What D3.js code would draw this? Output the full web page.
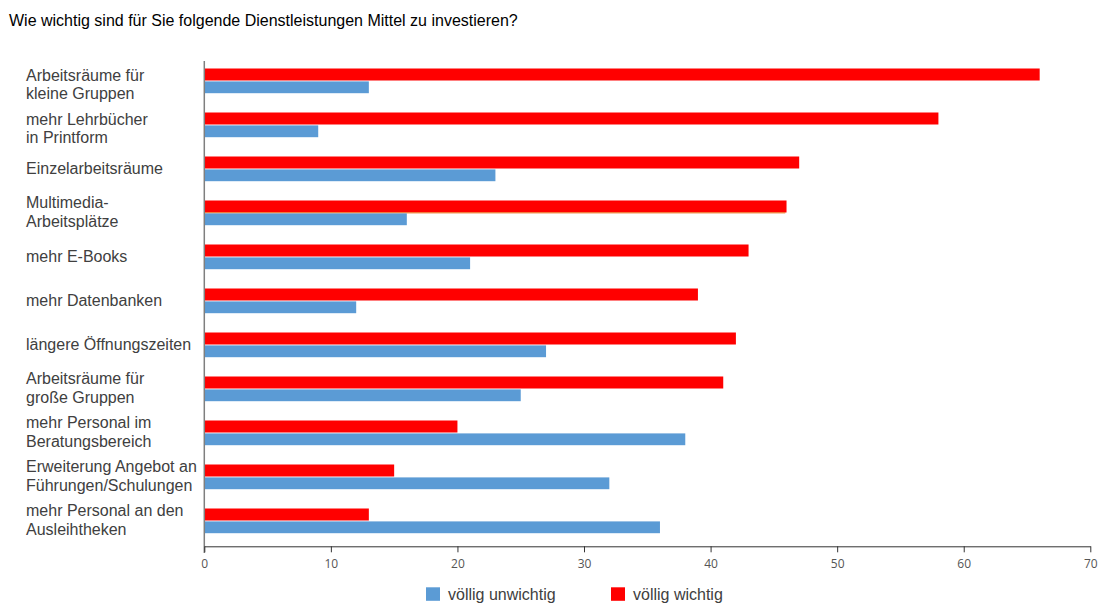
<!DOCTYPE html>
<html><head><meta charset="utf-8">
<script src="https://cdn.jsdelivr.net/npm/d3@7"></script>
<style>
html,body{margin:0;padding:0;background:#fff;}
svg{display:block;}
</style></head>
<body>
<svg id="chart" width="1099" height="604"></svg>
<script>
const title = "Wie wichtig sind für Sie folgende Dienstleistungen Mittel zu investieren?";
const categories = [
  ["Arbeitsräume für", "kleine Gruppen"],
  ["mehr Lehrbücher", "in Printform"],
  ["Einzelarbeitsräume"],
  ["Multimedia-", "Arbeitsplätze"],
  ["mehr E-Books"],
  ["mehr Datenbanken"],
  ["längere Öffnungszeiten"],
  ["Arbeitsräume für", "große Gruppen"],
  ["mehr Personal im", "Beratungsbereich"],
  ["Erweiterung Angebot an", "Führungen/Schulungen"],
  ["mehr Personal an den", "Ausleihtheken"]
];
const seriesNames = ["völlig unwichtig", "völlig wichtig"];
const unwichtig = [13, 9, 23, 16, 21, 12, 27, 25, 38, 32, 36];
const wichtig   = [66, 58, 47, 46, 43, 39, 42, 41, 20, 15, 13];
// thin orange sliver visible between the bars of one row in the original
const sliver    = [null, null, null, 45.9, null, null, null, null, null, null, null];
const xTicks = [0, 10, 20, 30, 40, 50, 60, 70];
const colors = ["#5B9BD5", "#FF0000"];
const sliverColor = "#ED7D31";

const svg = d3.select("#chart");
const m = {left: 204.3, right: 1090.3, top: 58.5, bottom: 542.5};

const x = d3.scaleLinear().domain([0, 70]).range([m.left, m.right]);
const y = d3.scaleBand().domain(d3.range(categories.length)).range([m.top, m.bottom]);

svg.append("text").attr("x", 9).attr("y", 20).attr("dominant-baseline", "central")
  .attr("font-family", "Liberation Sans, Arial, sans-serif").attr("font-size", 16)
  .attr("fill", "#000").text(title);

const rows = svg.append("g");
categories.forEach((c, i) => {
  const cy = y(i) + y.bandwidth() / 2;
  rows.append("rect").attr("x", x(0)).attr("y", cy - 12)
    .attr("width", x(wichtig[i]) - x(0)).attr("height", 12).attr("fill", colors[1]);
  if (sliver[i] != null) {
    rows.append("rect").attr("x", x(0)).attr("y", cy - 0.3)
      .attr("width", x(sliver[i]) - x(0)).attr("height", 1.2).attr("fill", sliverColor);
  }
  rows.append("rect").attr("x", x(0)).attr("y", cy + 0.9)
    .attr("width", x(unwichtig[i]) - x(0)).attr("height", 11.8).attr("fill", colors[0]);
});

// labels
const lab = svg.append("g").attr("font-family", "Liberation Sans, Arial, sans-serif")
  .attr("font-size", 16).attr("fill", "#404040");
categories.forEach((c, i) => {
  const cy = y(i) + y.bandwidth() / 2;
  const t = lab.append("text").attr("x", 26).attr("dominant-baseline", "central");
  if (c.length === 1) {
    t.attr("y", cy).text(c[0]);
  } else {
    const off = i < 2 ? [-6, 12.5] : [-10.5, 8];
    t.append("tspan").attr("x", 26).attr("y", cy + off[0]).text(c[0]);
    t.append("tspan").attr("x", 26).attr("y", cy + off[1]).text(c[1]);
  }
});

// y axis line
svg.append("line").attr("x1", x(0)).attr("x2", x(0)).attr("y1", 61).attr("y2", 553)
  .attr("stroke", "#7f7f7f").attr("stroke-width", 1.5);

// x axis
const xa = svg.append("g").attr("transform", "translate(0,546.3)")
  .call(d3.axisBottom(x).tickValues(xTicks).tickSize(6).tickSizeOuter(0).tickPadding(7));
xa.select(".domain").attr("stroke", "#333").attr("stroke-width", 1);
xa.selectAll(".tick line").attr("stroke", "#333");
xa.selectAll(".tick text").attr("font-family", "Open Sans, sans-serif").attr("font-size", 12)
  .attr("fill", "#555");

// legend
const lg = svg.append("g").attr("font-family", "Liberation Sans, Arial, sans-serif")
  .attr("font-size", 16).attr("fill", "#404040");
const legX = [426, 611];
seriesNames.forEach((s, i) => {
  lg.append("rect").attr("x", legX[i]).attr("y", 587.3).attr("width", 14).attr("height", 13.5).attr("fill", colors[i]);
  lg.append("text").attr("x", legX[i] + 22).attr("y", 594.5).attr("dominant-baseline", "central").text(s);
});
</script>
</body></html>
